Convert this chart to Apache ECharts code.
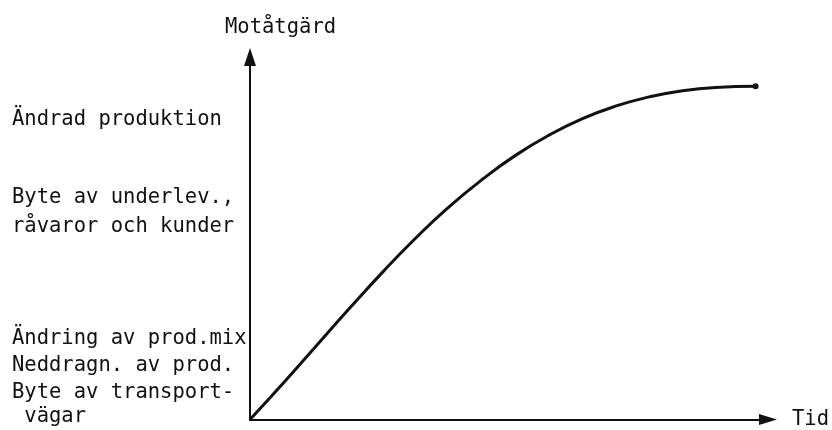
<!DOCTYPE html>
<html>
<head>
<meta charset="utf-8">
<script src="https://cdn.jsdelivr.net/npm/echarts@6/dist/echarts.min.js"></script>
<style>html,body{margin:0;padding:0;background:#fff}#c{width:832px;height:430px}</style>
</head>
<body>
<div id="c"></div>
<script>
// Data
const curveX = [0, 6.4, 12.9, 19.3, 25.7, 32.1, 38.2, 45.0, 51.4, 57.8, 64.2, 70.7, 77.1, 83.5, 89.9, 97.6];
const curveY = [0, 10.0, 20.5, 30.8, 40.8, 50.2, 58.4, 66.4, 73.0, 78.5, 83.0, 86.5, 89.0, 90.7, 91.6, 91.9];
const yTickValues = [82.6, 61.3, 53.3, 22.2, 14.9, 7.3, 0.8];
const yTickLabels = [
  'Ändrad produktion',
  'Byte av underlev.,',
  'råvaror och kunder',
  'Ändring av prod.mix',
  'Neddragn. av prod.',
  'Byte av transport-',
  ' vägar'
];
const yAxisTitle = 'Motåtgärd';
const xAxisTitle = 'Tid';

const FONT = '"DejaVu Sans Mono", monospace';
const INK = '#111';

const seriesData = curveX.map((x, i) => {
  const item = { value: [x, curveY[i]] };
  if (i === curveX.length - 1) { item.symbol = 'circle'; item.symbolSize = 6; }
  return item;
});

const chart = echarts.init(document.getElementById('c'), null, { renderer: 'canvas' });
chart.setOption({
  animation: false,
  backgroundColor: '#fff',
  title: {
    text: yAxisTitle, left: 225, top: 17, padding: 0,
    textStyle: { fontFamily: FONT, fontSize: 20.5, fontWeight: 'normal', color: INK }
  },
  grid: { left: 250, right: 63, top: 57, bottom: 6, containLabel: false },
  xAxis: {
    type: 'value', min: 0, max: 100,
    name: xAxisTitle, nameLocation: 'end', nameGap: 24,
    nameTextStyle: { fontFamily: FONT, fontSize: 20.5, color: INK, padding: [0, 0, 2, 0] },
    axisLine: { show: true, lineStyle: { color: INK, width: 2 }, symbol: ['none', 'triangle'], symbolSize: [11, 18] },
    axisTick: { show: false }, axisLabel: { show: false }, splitLine: { show: false }
  },
  yAxis: {
    type: 'value', min: 0, max: 100,
    axisLine: { show: true, lineStyle: { color: INK, width: 2 }, symbol: ['none', 'triangle'], symbolSize: [12, 18] },
    axisTick: { show: false }, splitLine: { show: false },
    axisLabel: {
      show: true,
      customValues: yTickValues,
      formatter: function (v) {
        const i = yTickValues.findIndex(t => Math.abs(t - v) < 1e-6);
        return i >= 0 ? yTickLabels[i] : '';
      },
      align: 'left', margin: 238,
      fontFamily: FONT, fontSize: 20.5, color: INK
    }
  },
  series: [{
    type: 'line',
    data: seriesData,
    smooth: 0.5,
    symbol: 'none',
    showSymbol: true,
    lineStyle: { color: INK, width: 3 },
    itemStyle: { color: INK }
  }]
});
</script>
</body>
</html>
